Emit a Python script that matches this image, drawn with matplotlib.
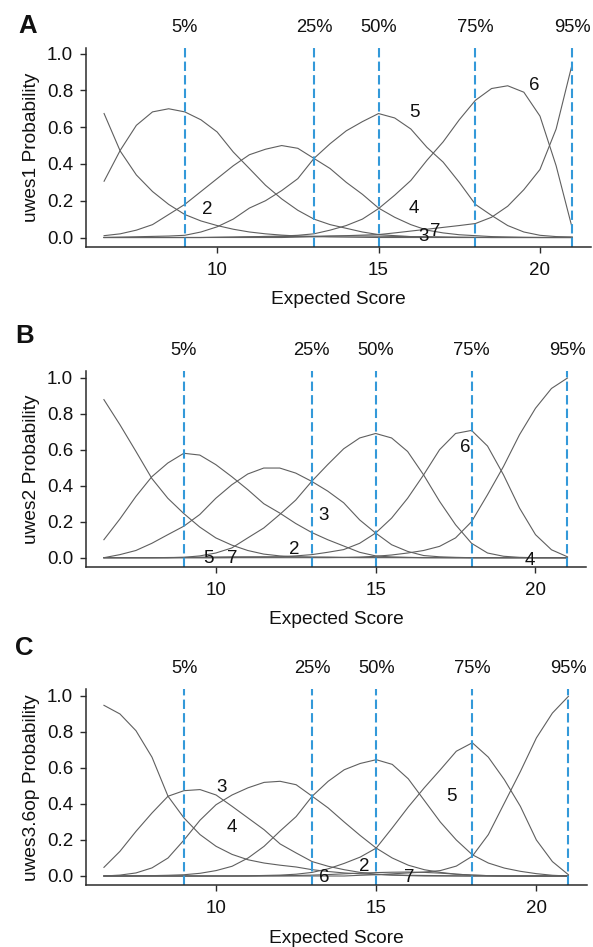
import matplotlib
matplotlib.use("Agg")
import matplotlib.pyplot as plt
from matplotlib.ticker import FormatStrFormatter

plt.rcParams['font.family'] = ['Liberation Sans', 'DejaVu Sans']

# ---------------- data ----------------
score = [6.5, 7.0, 7.5, 8.0, 8.5, 9.0, 9.5, 10.0, 10.5, 11.0, 11.5, 12.0, 12.5, 13.0, 13.5,
         14.0, 14.5, 15.0, 15.5, 16.0, 16.5, 17.0, 17.5, 18.0, 18.5, 19.0, 19.5, 20.0, 20.5, 21.0]

percentile_labels = ['5%', '25%', '50%', '75%', '95%']
percentile_scores = [9, 13, 15, 18, 21]
x_ticks = [10, 15, 20]
y_ticks = [0.0, 0.2, 0.4, 0.6, 0.8, 1.0]

# uwes1
uwes1_cat1 = [0.674, 0.470, 0.340, 0.250, 0.180, 0.125, 0.090, 0.065, 0.045, 0.030, 0.020, 0.013, 0.008, 0.005, 0.003,
              0.002, 0.001, 0, 0, 0, 0, 0, 0, 0, 0, 0, 0, 0, 0, 0]
uwes1_cat2 = [0.306, 0.474, 0.610, 0.683, 0.700, 0.683, 0.640, 0.574, 0.465, 0.375, 0.284, 0.210, 0.148, 0.100, 0.070,
              0.050, 0.030, 0.016, 0.010, 0.005, 0.003, 0.001, 0, 0, 0, 0, 0, 0, 0, 0]
uwes1_cat3 = [0.010, 0.020, 0.040, 0.070, 0.125, 0.180, 0.250, 0.320, 0.390, 0.450, 0.480, 0.500, 0.485, 0.430, 0.375,
              0.300, 0.235, 0.160, 0.110, 0.070, 0.040, 0.025, 0.015, 0.010, 0.005, 0.003, 0.001, 0, 0, 0]
uwes1_cat4 = [0, 0.002, 0.004, 0.006, 0.008, 0.012, 0.030, 0.058, 0.100, 0.160, 0.200, 0.255, 0.320, 0.430, 0.510,
              0.580, 0.630, 0.674, 0.650, 0.590, 0.490, 0.410, 0.300, 0.180, 0.120, 0.065, 0.030, 0.012, 0.005, 0.003]
uwes1_cat5 = [0, 0, 0, 0, 0, 0, 0, 0.001, 0.002, 0.004, 0.006, 0.008, 0.012, 0.020, 0.040,
              0.065, 0.100, 0.157, 0.230, 0.310, 0.420, 0.520, 0.640, 0.746, 0.810, 0.825, 0.790, 0.660, 0.390, 0.050]
uwes1_cat6 = [0, 0, 0, 0, 0, 0, 0, 0, 0, 0, 0, 0, 0.002, 0.004, 0.007,
              0.010, 0.013, 0.016, 0.025, 0.035, 0.045, 0.055, 0.065, 0.076, 0.110, 0.170, 0.260, 0.370, 0.590, 0.945]
uwes1_cat7 = [0, 0, 0, 0, 0, 0, 0, 0.001, 0.002, 0.003, 0.004, 0.005, 0.006, 0.007, 0.008,
              0.008, 0.008, 0.007, 0.006, 0.005, 0.004, 0.003, 0.002, 0.001, 0, 0, 0, 0, 0, 0]
uwes1_label_text = ['2', '5', '4', '6', '3', '7']
uwes1_label_x = [9.71, 16.10, 16.10, 19.82, 16.40, 16.75]
uwes1_label_y = [0.154, 0.680, 0.158, 0.828, 0.003, 0.034]

# uwes2
uwes2_cat1 = [0.878, 0.739, 0.591, 0.440, 0.330, 0.245, 0.170, 0.110, 0.070, 0.040, 0.020, 0.010, 0.005, 0.003, 0.002,
              0.001, 0, 0, 0, 0, 0, 0, 0, 0, 0, 0, 0, 0, 0, 0]
uwes2_cat2 = [0.100, 0.215, 0.340, 0.450, 0.526, 0.580, 0.570, 0.517, 0.450, 0.378, 0.300, 0.248, 0.190, 0.140, 0.100,
              0.065, 0.030, 0.010, 0.004, 0.002, 0, 0, 0, 0, 0, 0, 0, 0, 0, 0]
uwes2_cat3 = [0.000, 0.017, 0.040, 0.080, 0.128, 0.175, 0.240, 0.330, 0.405, 0.465, 0.498, 0.498, 0.470, 0.424, 0.370,
              0.305, 0.210, 0.137, 0.072, 0.035, 0.012, 0.005, 0.002, 0, 0, 0, 0, 0, 0, 0]
uwes2_cat4 = [0, 0, 0, 0, 0, 0.002, 0.010, 0.026, 0.054, 0.110, 0.165, 0.240, 0.320, 0.424, 0.517,
              0.605, 0.665, 0.690, 0.665, 0.590, 0.460, 0.313, 0.183, 0.080, 0.026, 0.008, 0.002, 0, 0, 0]
uwes2_cat5 = [0, 0, 0, 0, 0, 0, 0, 0, 0.001, 0.002, 0.003, 0.005, 0.010, 0.017, 0.030,
              0.045, 0.080, 0.137, 0.220, 0.330, 0.460, 0.600, 0.690, 0.707, 0.620, 0.460, 0.276, 0.128, 0.044, 0.005]
uwes2_cat6 = [0, 0, 0, 0, 0, 0, 0, 0, 0, 0, 0, 0, 0, 0, 0,
              0.001, 0.003, 0.008, 0.015, 0.026, 0.040, 0.063, 0.110, 0.200, 0.350, 0.507, 0.683, 0.830, 0.940, 0.998]
uwes2_cat7 = [0, 0, 0, 0, 0.001, 0.002, 0.003, 0.004, 0.005, 0.005, 0.005, 0.004, 0.004, 0.003, 0.003,
              0.002, 0.002, 0.002, 0.002, 0.001, 0.001, 0.001, 0, 0, 0, 0, 0, 0, 0, 0]
uwes2_label_text = ['5', '7', '2', '3', '6', '4']
uwes2_label_x = [9.77, 10.52, 12.45, 13.37, 17.80, 19.81]
uwes2_label_y = [-0.006, -0.006, 0.044, 0.236, 0.613, -0.017]

# uwes3.6op
uwes3_cat1 = [0.948, 0.900, 0.807, 0.660, 0.443, 0.322, 0.230, 0.165, 0.120, 0.090, 0.072, 0.060, 0.050, 0.035, 0.025,
              0.017, 0.012, 0.008, 0.006, 0.004, 0.003, 0.002, 0.001, 0, 0, 0, 0, 0, 0, 0]
uwes3_cat2 = [0.048, 0.137, 0.248, 0.350, 0.443, 0.474, 0.480, 0.450, 0.387, 0.322, 0.257, 0.178, 0.128, 0.080, 0.054,
              0.035, 0.020, 0.010, 0.005, 0.002, 0, 0, 0, 0, 0, 0, 0, 0, 0, 0]
uwes3_cat3 = [0, 0.005, 0.017, 0.045, 0.100, 0.200, 0.310, 0.396, 0.450, 0.490, 0.520, 0.526, 0.507, 0.443, 0.378,
              0.300, 0.225, 0.155, 0.100, 0.060, 0.035, 0.020, 0.010, 0.005, 0.002, 0, 0, 0, 0, 0]
uwes3_cat4 = [0, 0, 0.001, 0.002, 0.004, 0.007, 0.015, 0.030, 0.054, 0.100, 0.165, 0.250, 0.330, 0.443, 0.526,
              0.590, 0.625, 0.646, 0.620, 0.540, 0.420, 0.300, 0.200, 0.118, 0.072, 0.044, 0.026, 0.013, 0.004, 0]
uwes3_cat5 = [0, 0, 0, 0, 0, 0, 0, 0, 0, 0.001, 0.003, 0.005, 0.010, 0.020, 0.040,
              0.070, 0.105, 0.155, 0.267, 0.383, 0.490, 0.590, 0.693, 0.740, 0.660, 0.535, 0.387, 0.200, 0.080, 0.007]
uwes3_cat6 = [0, 0, 0, 0, 0, 0, 0, 0, 0, 0, 0, 0, 0, 0, 0,
              0, 0.004, 0.007, 0.012, 0.017, 0.022, 0.030, 0.055, 0.110, 0.230, 0.405, 0.580, 0.767, 0.905, 0.998]
uwes3_cat7 = [0, 0, 0, 0, 0, 0, 0, 0, 0, 0, 0.001, 0.002, 0.003, 0.005, 0.008,
              0.012, 0.016, 0.019, 0.021, 0.022, 0.020, 0.016, 0.010, 0.005, 0.002, 0, 0, 0, 0, 0]
uwes3_label_text = ['3', '4', '6', '2', '7', '5']
uwes3_label_x = [10.16, 10.50, 13.37, 14.62, 16.04, 17.34]
uwes3_label_y = [0.489, 0.267, -0.007, 0.054, -0.007, 0.443]

panels = [
    ('A', 'uwes1 Probability',
     [uwes1_cat1, uwes1_cat2, uwes1_cat3, uwes1_cat4, uwes1_cat5, uwes1_cat6, uwes1_cat7],
     uwes1_label_text, uwes1_label_x, uwes1_label_y),
    ('B', 'uwes2 Probability',
     [uwes2_cat1, uwes2_cat2, uwes2_cat3, uwes2_cat4, uwes2_cat5, uwes2_cat6, uwes2_cat7],
     uwes2_label_text, uwes2_label_x, uwes2_label_y),
    ('C', 'uwes3.6op Probability',
     [uwes3_cat1, uwes3_cat2, uwes3_cat3, uwes3_cat4, uwes3_cat5, uwes3_cat6, uwes3_cat7],
     uwes3_label_text, uwes3_label_x, uwes3_label_y),
]

# ---------------- layout (pixels) ----------------
W, H = 593, 947
fig = plt.figure(figsize=(W / 100, H / 100), dpi=100)

# left, right, top, bottom in pixels
rects = [(86, 591, 47.7, 246.7), (86, 586, 371, 566.7), (86, 587, 689.3, 885)]
letter_pos = [(27.5, 33.3), (24.7, 343.3), (24.7, 655)]
xlabel_tops = [290.5, 611.5, 929.5]
ylims = [(-0.05, 1.032), (-0.05, 1.037), (-0.05, 1.037)]

curve_color = '#5f5f5f'
pct_color = '#3399d9'
spine_color = '#2b2b2b'

for i, (letter, ylabel, cats, ltxt, lx, ly) in enumerate(panels):
    l, r, t, b = rects[i]
    ax = fig.add_axes([l / W, 1 - b / H, (r - l) / W, (b - t) / H])
    for cat in cats:
        ax.plot(score, cat, color=curve_color, lw=0.8, solid_joinstyle='round')
    for px in percentile_scores:
        ax.axvline(px, color=pct_color, lw=1.5, linestyle=(0, (4.5, 2.0)))
    for pl, px in zip(percentile_labels, percentile_scores):
        ax.annotate(pl, xy=(px, 1.0), xycoords=('data', 'axes fraction'),
                    xytext=(0, 11.5), textcoords='offset points',
                    ha='center', va='baseline', fontsize=13.2, color='#111111',
                    annotation_clip=False)
    for s, x, y in zip(ltxt, lx, ly):
        ax.text(x, y, s, ha='center', va='center', fontsize=13.5, color='#111111')

    ax.set_xlim(5.94, 21.58)
    ax.set_ylim(*ylims[i])
    ax.set_xticks(x_ticks)
    ax.set_yticks(y_ticks)
    ax.yaxis.set_major_formatter(FormatStrFormatter('%.1f'))
    for side in ('top', 'right'):
        ax.spines[side].set_visible(False)
    for side in ('left', 'bottom'):
        ax.spines[side].set_color(spine_color)
        ax.spines[side].set_linewidth(1.1)
    ax.tick_params(axis='both', direction='out', length=4.3, width=1.0,
                   color=spine_color, labelsize=13.5, labelcolor='#111111')
    ax.tick_params(axis='y', pad=5)
    ax.tick_params(axis='x', pad=6.5)

    ax.set_ylabel(ylabel, fontsize=13.8, color='#111111')
    ax.yaxis.set_label_coords((40 - l) / (r - l), 0.5)
    ax.set_xlabel('Expected Score', fontsize=13.8, color='#111111')
    ax.xaxis.set_label_coords(0.5, (b - xlabel_tops[i]) / (b - t))

    lxp, lyp = letter_pos[i]
    fig.text(lxp / W, 1 - lyp / H, letter, ha='center', va='baseline',
             fontsize=18.5, fontweight='bold', color='#111111')

fig.savefig('out.png', dpi=100)
